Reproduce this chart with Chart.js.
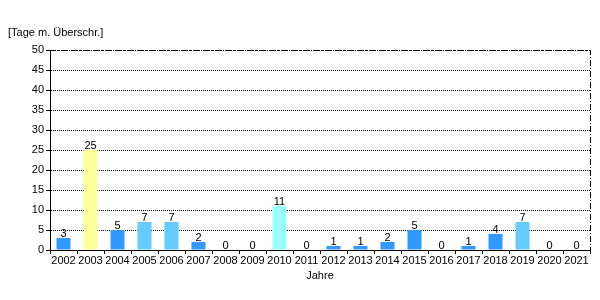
<!DOCTYPE html>
<html>
<head>
<meta charset="utf-8">
<script src="https://cdn.jsdelivr.net/npm/chart.js@4"></script>
<style>
  body { margin: 0; background: #fff; }
  #wrap { width: 600px; height: 300px; }
</style>
</head>
<body>
<div id="wrap"><canvas id="chart" width="600" height="300"></canvas></div>
<script>
// Daten
const years = ['2002', '2003', '2004', '2005', '2006', '2007', '2008', '2009', '2010', '2011',
               '2012', '2013', '2014', '2015', '2016', '2017', '2018', '2019', '2020', '2021'];
const days = [3, 25, 5, 7, 7, 2, 0, 0, 11, 0, 1, 1, 2, 5, 0, 1, 4, 7, 0, 0];
const yTicks = [0, 5, 10, 15, 20, 25, 30, 35, 40, 45, 50];

const FONT = 'Liberation Sans, Arial, sans-serif';

// Farbe je nach Wert
function barColor(v) {
    if (v > 20) return '#FFFF99';
    if (v > 10) return '#99FFFF';
    if (v > 5) return '#66CCFF';
    return '#3399FF';
}

// Werte über den Balken
const valueLabels = {
    id: 'valueLabels',
    afterDatasetsDraw(chart) {
        const ctx = chart.ctx;
        const meta = chart.getDatasetMeta(0);
        ctx.save();
        ctx.font = '11px ' + FONT;
        ctx.fillStyle = '#000';
        ctx.textAlign = 'center';
        ctx.textBaseline = 'bottom';
        meta.data.forEach((bar, i) => {
            ctx.fillText(String(days[i]), bar.x, bar.y + 1);
        });
        ctx.restore();
    }
};

// Rahmen oben/rechts strichpunktiert + Achsentitel
const frame = {
    id: 'frame',
    afterDraw(chart) {
        const { ctx, chartArea: a } = chart;
        ctx.save();
        ctx.strokeStyle = '#000';
        ctx.lineWidth = 1;
        ctx.setLineDash([6, 2, 1, 2]);
        ctx.beginPath();
        ctx.moveTo(a.left, a.top + 0.5);
        ctx.lineTo(a.right + 0.5, a.top + 0.5);
        ctx.lineTo(a.right + 0.5, a.bottom);
        ctx.stroke();
        ctx.setLineDash([]);
        ctx.font = '11px ' + FONT;
        ctx.fillStyle = '#000';
        ctx.textAlign = 'left';
        ctx.textBaseline = 'alphabetic';
        ctx.fillText('[Tage m. Überschr.]', 8, 36);
        ctx.textAlign = 'center';
        ctx.fillText('Jahre', (a.left + a.right) / 2, 279);
        ctx.restore();
    }
};

new Chart(document.getElementById('chart'), {
    type: 'bar',
    data: {
        labels: years,
        datasets: [{
            data: days,
            backgroundColor: days.map(barColor),
            borderWidth: 0,
            barPercentage: 0.52,
            categoryPercentage: 1
        }]
    },
    options: {
        responsive: false,
        animation: false,
        layout: { padding: { top: 50, right: 10, left: 0, bottom: 0 } },
        plugins: {
            legend: { display: false },
            tooltip: { enabled: false }
        },
        scales: {
            x: {
                offset: true,
                grid: {
                    offset: true,
                    drawOnChartArea: false,
                    drawTicks: true,
                    tickLength: 4,
                    tickColor: '#000'
                },
                border: { display: true, color: '#000', width: 1 },
                ticks: {
                    autoSkip: false,
                    maxRotation: 0,
                    color: '#000',
                    padding: 0,
                    font: { family: FONT, size: 11 }
                },
                afterFit(scale) { scale.height = 50; }
            },
            y: {
                min: 0,
                max: 50,
                afterBuildTicks(scale) { scale.ticks = yTicks.map(v => ({ value: v })); },
                grid: {
                    color: '#000',
                    drawTicks: true,
                    tickLength: 4,
                    tickColor: '#000'
                },
                border: { display: true, color: '#000', width: 1, dash: [1, 1] },
                ticks: {
                    color: '#000',
                    padding: 2,
                    font: { family: FONT, size: 11 }
                },
                afterFit(scale) { scale.width = 50; }
            }
        }
    },
    plugins: [valueLabels, frame]
});
</script>
</body>
</html>
